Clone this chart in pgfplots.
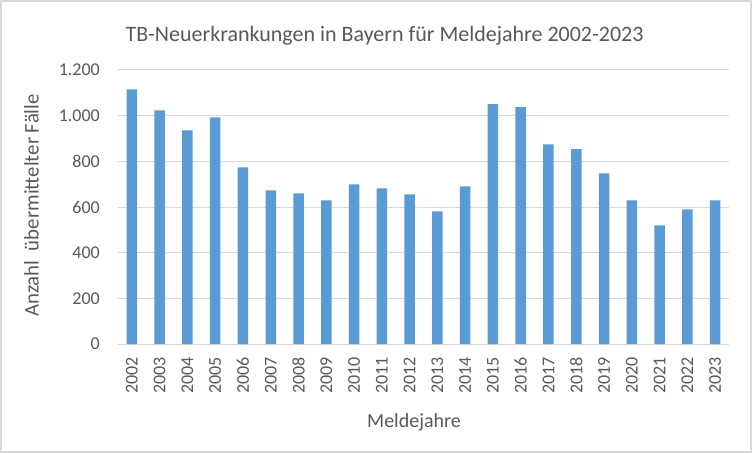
\documentclass[border=0pt]{standalone}
\usepackage{pgfplots}
\pgfplotsset{compat=1.18}
\usepackage{fontspec}
\setmainfont{Carlito}
\definecolor{barc}{HTML}{5B9BD5}
\definecolor{txt}{HTML}{595959}
\definecolor{gridc}{HTML}{D9D9D9}
\begin{document}
\begin{tikzpicture}
\useasboundingbox (0,0) rectangle (752pt,453pt);
\fill[white] (0,0) rectangle (752pt,453pt);
\draw[gridc, line width=2pt] (1pt,1pt) rectangle (751pt,452pt);
\begin{axis}[
  at={(118pt,109pt)}, anchor=south west,
  scale only axis, width=611pt, height=274pt,
  xmin=-0.5, xmax=21.5, ymin=0, ymax=1200,
  enlargelimits=false,
  ytick={0,200,...,1200},
  yticklabels={0,200,400,600,800,{1.000},{1.200}},
  xtick={0,...,21},
  xticklabels={2002,2003,2004,2005,2006,2007,2008,2009,2010,2011,2012,2013,2014,2015,2016,2017,2018,2019,2020,2021,2022,2023},
  axis lines*=left,
  x axis line style={draw=gridc, line width=1pt},
  y axis line style={draw=none},
  ymajorgrids, major grid style={draw=gridc, line width=1pt},
  major tick length=0pt,
  ybar, bar width=10.5pt,
  tick label style={font=\fontsize{18}{20}\selectfont, text=txt},
  yticklabel style={anchor=east, inner sep=0pt},
  yticklabel shift=18pt,
  xticklabel style={rotate=90, anchor=east, inner sep=0pt},
  xticklabel shift=13pt,
]
\addplot[fill=barc, draw=none] coordinates {
(0,1115) (1,1023) (2,936) (3,993) (4,774) (5,673) (6,660) (7,629)
(8,699) (9,682) (10,655) (11,581) (12,690) (13,1051) (14,1037)
(15,874) (16,853) (17,747) (18,629) (19,520) (20,590) (21,629)};
\end{axis}
\node[anchor=base, text=txt, font=\fontsize{22}{26}\selectfont] at (384.5pt,411pt) {TB-Neuerkrankungen in Bayern für Meldejahre 2002-2023};
\node[anchor=base, text=txt, font=\fontsize{20}{24}\selectfont] at (414pt,26pt) {Meldejahre};
\node[anchor=base, rotate=90, text=txt, font=\fontsize{20.8}{24}\selectfont] at (38.5pt,247.5pt) {Anzahl\ \ übermittelter Fälle};
\end{tikzpicture}
\end{document}
